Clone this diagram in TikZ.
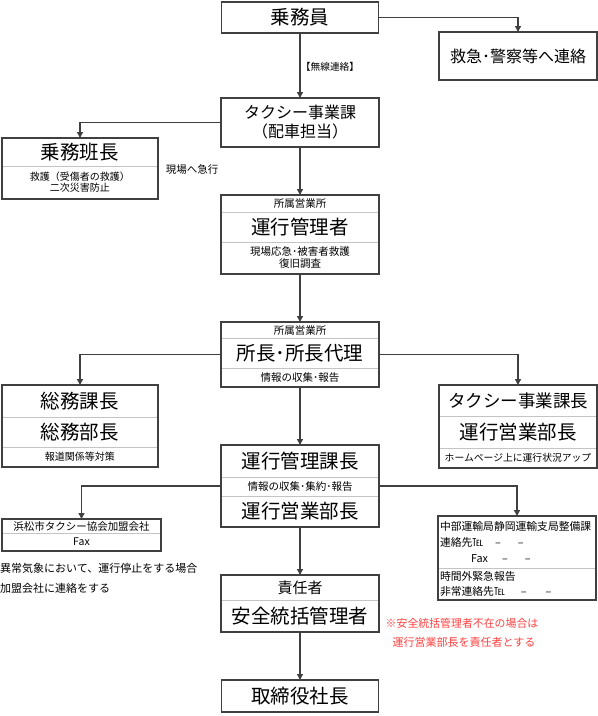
\documentclass[tikz,border=0pt]{standalone}
\usepackage{fontspec}
\setmainfont{Noto Sans CJK JP}
\usepackage{xcolor}
\definecolor{Col1}{RGB}{64,64,64}
\definecolor{Col2}{RGB}{196,196,196}
\definecolor{Col3}{RGB}{255,64,64}
\usepackage{tikz}
\usetikzlibrary{fit}
\usetikzlibrary{arrows.meta}
\tikzstyle{Row}=[rectangle,draw=Col2,inner sep=0pt,outer sep=0pt,anchor=north,
align=center,text=black]
\tikzstyle{Frame}=[rectangle,draw=Col1,line width=2pt,inner sep=0pt,outer sep=0pt,
align=center]
\tikzstyle{Edge}=[draw=Col1,line width=1.3pt,-{Triangle[length=6pt,width=6pt]}]
\tikzstyle{Big}=[font=\fontsize{19.5}{22}\selectfont]
\tikzstyle{Mid}=[font=\fontsize{16}{19}\selectfont]
\tikzstyle{Small}=[font=\fontsize{10.5}{12}\selectfont]

\begin{document}
\begin{tikzpicture}[x=1pt,y=-1pt]
        \useasboundingbox(0,0)rectangle(598,716);
        % center column
        \node[Frame,line width=1.4pt,minimum width=157pt,minimum height=31pt,Big](crew)at(300,17.5){乗務員};
        \node[Frame,minimum width=158pt,minimum height=48pt,Mid](rescue)at(518,56){救急･警察等へ連絡};
        \node[Frame,minimum width=158pt,minimum height=49pt,Mid](taxi)at(300,122.5){タクシー事業課\\（配車担当）};
        \node[Row,minimum width=158pt,minimum height=17pt,Small](e1)at(300,195){所属営業所};
        \node[Row,minimum width=158pt,minimum height=30pt,Big](e2)at(300,212){運行管理者};
        \node[Row,minimum width=158pt,minimum height=32pt,font=\fontsize{10.5}{12}\selectfont](e3)at(300,242){現場応急･被害者救護\\復旧調査};
        \node[Frame,fit=(e1)(e3)](manager){};
        \node[Row,minimum width=158pt,minimum height=16pt,Small](f1)at(300,322){所属営業所};
        \node[Row,minimum width=158pt,minimum height=30pt,Big](f2)at(300,338){所長･所長代理};
        \node[Row,minimum width=158pt,minimum height=19pt,Small](f3)at(300,368){情報の収集･報告};
        \node[Frame,fit=(f1)(f3)](chief){};
        \node[Row,minimum width=158pt,minimum height=32pt,Big](i1)at(300,445){運行管理課長};
        \node[Row,minimum width=158pt,minimum height=19pt,Small](i2)at(300,477){情報の収集･集約･報告};
        \node[Row,minimum width=158pt,minimum height=31pt,Big](i3)at(300,496){運行営業部長};
        \node[Frame,fit=(i1)(i3)](opshead){};
        \node[Row,minimum width=158pt,minimum height=25pt,font=\fontsize{15}{18}\selectfont](l1)at(300,575){責任者};
        \node[Row,minimum width=158pt,minimum height=32pt,Big](l2)at(300,600){安全統括管理者};
        \node[Frame,fit=(l1)(l2)](safety){};
        \node[Frame,line width=1.4pt,minimum width=157pt,minimum height=32pt,Big](president)at(300,696){取締役社長};
        % left column
        \node[Row,minimum width=156pt,minimum height=28pt,Big](d1)at(80,138){乗務班長};
        \node[Row,minimum width=156pt,minimum height=33pt,font=\fontsize{10}{11}\selectfont](d2)at(80,166){救護（受傷者の救護）\\二次災害防止};
        \node[Frame,fit=(d1)(d2)](crewlead){};
        \node[Row,minimum width=156pt,minimum height=32pt,Big](g1)at(80,385){総務課長};
        \node[Row,minimum width=156pt,minimum height=30pt,Big](g2)at(80,417){総務部長};
        \node[Row,minimum width=156pt,minimum height=20pt,font=\fontsize{10}{12}\selectfont](g3)at(80,447){報道関係等対策};
        \node[Frame,fit=(g1)(g3)](general){};
        \node[Row,minimum width=159pt,minimum height=14pt,Small](j1)at(81.5,519){浜松市タクシー協会加盟会社};
        \node[Row,minimum width=159pt,minimum height=18pt,Small](j2)at(81.5,533){Fax};
        \node[Frame,fit=(j1)(j2)](assoc){};
        % right column
        \node[Row,minimum width=158pt,minimum height=31pt,font=\fontsize{17.5}{20}\selectfont](h1)at(518,385){タクシー事業課長};
        \node[Row,minimum width=158pt,minimum height=32pt,Big](h2)at(518,416){運行営業部長};
        \node[Row,minimum width=158pt,minimum height=20pt,font=\fontsize{9.8}{12}\selectfont](h3)at(518,448){ホームページ上に運行状況アップ};
        \node[Frame,fit=(h1)(h3)](taxihead){};
        \node[Row,minimum width=158pt,minimum height=52pt,text width=154pt,align=left,font=\fontsize{10.8}{16}\selectfont](k1)at(517,516){中部運輸局静岡運輸支局整備課\\連絡先℡\hspace{12pt}–\hspace{17pt}–\\\hspace*{31pt}Fax\hspace{14pt}–\hspace{17pt}–};
        \node[Row,minimum width=158pt,minimum height=32pt,text width=154pt,align=left,font=\fontsize{10.8}{15}\selectfont](k2)at(517,568){時間外緊急報告\\非常連絡先℡\hspace{16pt}–\hspace{19pt}–};
        \node[Frame,fit=(k1)(k2)](bureau){};
        % labels
        \node[font=\fontsize{9.7}{12}\selectfont](radio)at(330,67){【無線連絡】};
        \node[Small](rush)at(192,170){現場へ急行};
        \node[anchor=west,inner sep=0pt,font=\fontsize{11}{13}\selectfont](weather)at(0,568){異常気象において、運行停止をする場合};
        \node[anchor=west,inner sep=0pt,font=\fontsize{11}{13}\selectfont](notify)at(0,588){加盟会社に連絡をする};
        \node[text=Col3,font=\fontsize{10.9}{13}\selectfont](note1)at(462,623){※安全統括管理者不在の場合は};
        \node[text=Col3,font=\fontsize{11}{13}\selectfont](note2)at(464,642){運行営業部長を責任者とする};
        % arrows
        \draw[Edge](crew.east)-|(rescue.north);
        \draw[Edge](crew)--(taxi);
        \draw[Edge](taxi.west)-|(crewlead.north);
        \draw[Edge](taxi)--(manager);
        \draw[Edge](manager)--(chief);
        \draw[Edge](chief.west)-|(general.north);
        \draw[Edge](chief.east)-|(taxihead.north);
        \draw[Edge](chief)--(opshead);
        \draw[Edge](opshead.west)-|(assoc.north);
        \draw[Edge](opshead.east)-|(bureau.north);
        \draw[Edge](opshead)--(safety);
        \draw[Edge](safety)--(president);
    \end{tikzpicture}
\end{document}
